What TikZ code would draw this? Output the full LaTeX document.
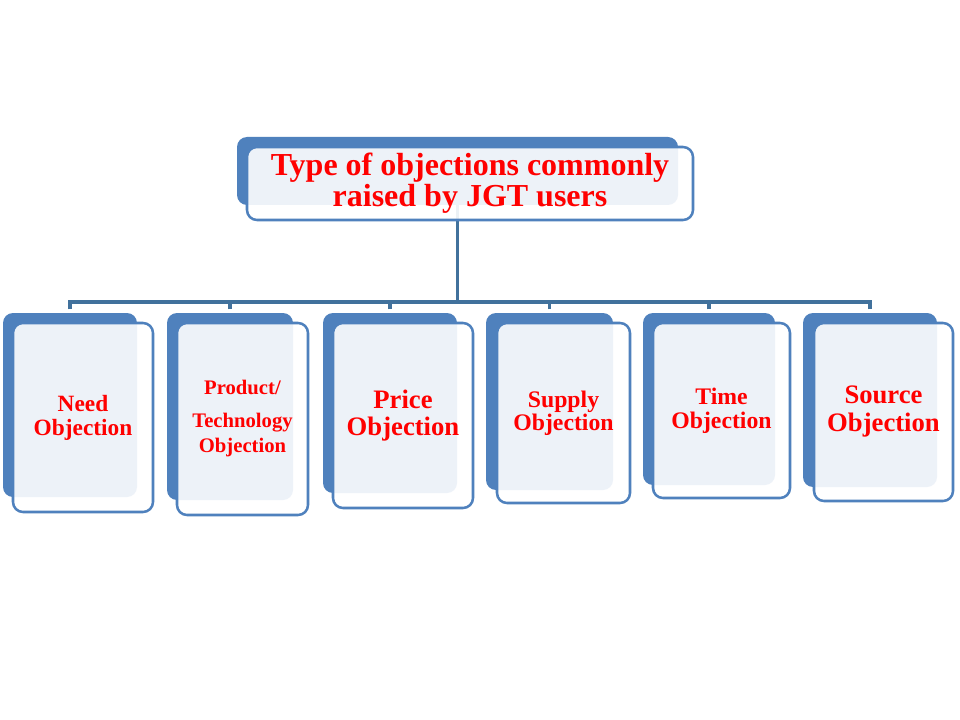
\documentclass[tikz,border=0pt]{standalone}
\usepackage{fontspec}
\setmainfont{Liberation Serif}
\definecolor{boxblue}{RGB}{79,129,189}
\definecolor{linkblue}{RGB}{65,113,156}
\def\px{0.75pt}
\def\boxfont#1#2{\bfseries\fontsize{#1}{#2}\selectfont}
\tikzset{
	backbox/.style={fill=boxblue, rounded corners=7.5pt, inner sep=0pt},
	frontbox/.style={draw=boxblue, line width=1.9pt, fill=white, fill opacity=0.9, text opacity=1, rounded corners=7.5pt, inner sep=0pt, align=center, text=red},
	link/.style={draw=linkblue, line width=2.3pt},
}

\begin{document}
\begin{tikzpicture}[x=0.75pt, y=-0.75pt]
			%%%%% START %%%%%
			
			\fill[white] (0, 0) rectangle (960, 720);
			\useasboundingbox (0, 0) rectangle (960, 720);
			
			\coordinate (bus) at (457.5, 302);
			
			\node[backbox, minimum width=441*\px, minimum height=68*\px] (typeback) at (457.5, 171) {};
			
			\node[backbox, minimum width=134*\px, minimum height=184*\px] (needback) at (70, 405) {};
			\node[backbox, minimum width=126*\px, minimum height=187*\px] (productback) at (230, 406.5) {};
			\node[backbox, minimum width=134*\px, minimum height=180*\px] (priceback) at (390, 403) {};
			\node[backbox, minimum width=127*\px, minimum height=177*\px] (supplyback) at (549.5, 401.5) {};
			\node[backbox, minimum width=132*\px, minimum height=172*\px] (timeback) at (709, 399) {};
			\node[backbox, minimum width=134*\px, minimum height=174*\px] (sourceback) at (870, 400) {};
			
			% connectors
			\draw[link] (typeback.south) -- (bus);
			\draw[link, shorten <=2.5pt] (needback.north) |- (bus);
			\draw[link, shorten <=2.5pt] (productback.north) |- (bus);
			\draw[link, shorten <=2.5pt] (priceback.north) |- (bus);
			\draw[link, shorten <=2.5pt] (supplyback.north) |- (bus);
			\draw[link, shorten <=2.5pt] (timeback.north) |- (bus);
			\draw[link, shorten <=2.5pt] (sourceback.north) |- (bus);
			
			\node[frontbox, font=\boxfont{24}{23}, minimum width=446*\px, minimum height=73*\px] (type) at (470, 183.5)
				{Type of objections commonly\\raised by JGT users};
			
			\node[frontbox, font=\boxfont{17.5}{18}, minimum width=140*\px, minimum height=189*\px] (need) at (83, 417.5)
				{Need\\Objection};
			\node[frontbox, font=\boxfont{15.5}{18.75}, minimum width=131*\px, minimum height=192*\px] (product) at (242.5, 419)
				{Product/\\[6pt]Technology\\Objection};
			\node[frontbox, font=\boxfont{20}{20.25}, minimum width=140*\px, minimum height=185*\px] (price) at (403, 415.5)
				{Price\\Objection};
			\node[frontbox, font=\boxfont{17.8}{17.5}, minimum width=133*\px, minimum height=180*\px] (supply) at (563.5, 413)
				{Supply\\Objection};
			\node[frontbox, font=\boxfont{17.8}{18}, minimum width=137*\px, minimum height=175*\px] (time) at (721.5, 410.5)
				{Time\\Objection};
			\node[frontbox, font=\boxfont{20}{21}, minimum width=139*\px, minimum height=178*\px] (source) at (883.5, 412)
				{Source\\Objection};
			
			%%%%% END %%%%%
\end{tikzpicture}
\end{document}
